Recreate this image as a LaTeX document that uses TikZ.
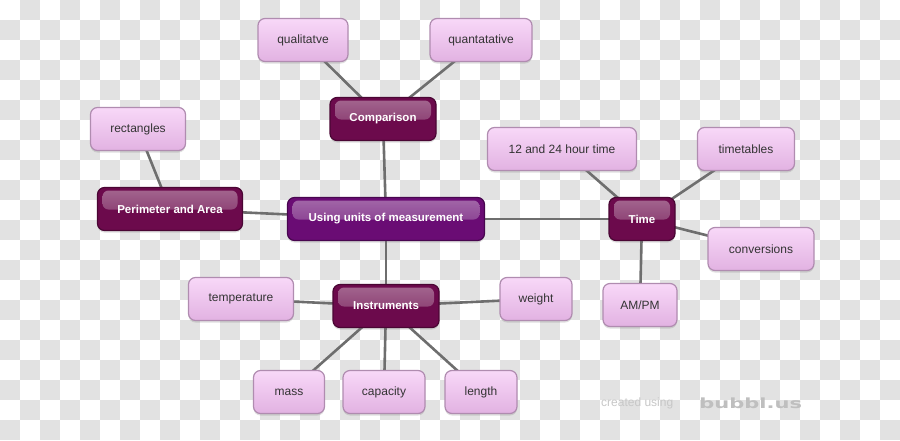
\documentclass[tikz,border=0pt]{standalone}
\usepackage{fontspec}
\setmainfont{Liberation Sans}
\newfontfamily\logofont{DejaVu Sans}
\usepackage{xcolor}
\usetikzlibrary{shadows}

\definecolor{checkerGray}{HTML}{E2E2E2}
\definecolor{leafTop}{HTML}{F8D8F8}
\definecolor{leafBot}{HTML}{E2B2E2}
\definecolor{leafEdge}{HTML}{B08CB0}
\definecolor{hubFill}{HTML}{6C0A4C}
\definecolor{hubEdge}{HTML}{4A0634}
\definecolor{coreFill}{HTML}{6A0C74}
\definecolor{coreEdge}{HTML}{48064F}
\definecolor{linkGray}{HTML}{6E6E6E}

\pgfdeclarelayer{links}
\pgfdeclarelayer{front}
\pgfsetlayers{main,links,front}

\begin{document}
\begin{tikzpicture}[x=1pt,y=-1pt,
  font=\fontsize{12}{14}\selectfont,
  leaf/.style={rounded corners=7pt, draw=leafEdge, line width=1.2pt,
    top color=leafTop, bottom color=leafBot, text=black!80,
    minimum height=43pt, inner sep=0pt,
    drop shadow={shadow xshift=0pt, shadow yshift=-2pt, opacity=0.25}},
  hub/.style={rounded corners=7pt, draw=hubEdge, line width=1.2pt,
    fill=hubFill, text=white, minimum height=43pt, inner sep=0pt,
    font=\fontsize{11.5}{14}\selectfont\bfseries,
    drop shadow={shadow xshift=0pt, shadow yshift=-2pt, opacity=0.25},
    path picture={\shade[top color=white!70!hubFill, bottom color=white!20!hubFill,
      opacity=0.55, rounded corners=6pt]
      ([xshift=5pt,yshift=-3pt]path picture bounding box.north west) rectangle
      ([xshift=-5pt,yshift=-22pt]path picture bounding box.north east);}},
  core/.style={hub, fill=coreFill, draw=coreEdge,
    path picture={\shade[top color=white!70!coreFill, bottom color=white!20!coreFill,
      opacity=0.55, rounded corners=6pt]
      ([xshift=5pt,yshift=-3pt]path picture bounding box.north west) rectangle
      ([xshift=-5pt,yshift=-22pt]path picture bounding box.north east);}},
  link/.style={draw=linkGray, line width=2.6pt}]

\useasboundingbox (0,0) rectangle (900,440);

% checker background
\fill[white] (0,0) rectangle (900,440);
\foreach \i in {0,...,44}{
  \foreach \j in {0,...,21}{
    \pgfmathtruncatemacro\odd{mod(\i+\j,2)}
    \ifnum\odd=1
      \path[fill=checkerGray] (\i*20,\j*20) rectangle (\i*20+20,\j*20+20);
    \fi
  }
}

\begin{pgfonlayer}{front}
% main topic
\node[core,minimum width=197pt] (units) at (386,219) {Using units of measurement};

% sub topics
\node[hub,minimum width=106pt] (comparison) at (383,119) {Comparison};
\node[hub,minimum width=145pt] (perimeter) at (170,209) {Perimeter and Area};
\node[hub,minimum width=66pt] (time) at (642,219) {Time};
\node[hub,minimum width=106pt] (instruments) at (386,306) {Instruments};

% leaves
\node[leaf,minimum width=90pt] (qualitative) at (303,40) {qualitatve};
\node[leaf,minimum width=102pt] (quantitative) at (481,40) {quantatative};
\node[leaf,minimum width=95pt] (rectangles) at (138,129) {rectangles};
\node[leaf,minimum width=149pt] (hourtime) at (562,149) {12 and 24 hour time};
\node[leaf,minimum width=97pt] (timetables) at (746,149) {timetables};
\node[leaf,minimum width=106pt] (conversions) at (761,249) {conversions};
\node[leaf,minimum width=74pt] (ampm) at (640,305) {AM/PM};
\node[leaf,minimum width=105pt] (temperature) at (241,299) {temperature};
\node[leaf,minimum width=72pt] (weight) at (536,299) {weight};
\node[leaf,minimum width=71pt] (mass) at (289,392) {mass};
\node[leaf,minimum width=82pt] (capacity) at (384,392) {capacity};
\node[leaf,minimum width=72pt] (length) at (481,392) {length};
\end{pgfonlayer}

\begin{pgfonlayer}{links}
\draw[link] (units.center) -- (comparison.center);
\draw[link] (units.center) -- (perimeter.center);
\draw[link] (units.center) -- (time.center);
\draw[link] (units.center) -- (instruments.center);
\draw[link] (comparison.center) -- (qualitative.center);
\draw[link] (comparison.center) -- (quantitative.center);
\draw[link] (perimeter.center) -- (rectangles.center);
\draw[link] (time.center) -- (hourtime.center);
\draw[link] (time.center) -- (timetables.center);
\draw[link] (time.center) -- (conversions.center);
\draw[link] (time.center) -- (ampm.center);
\draw[link] (instruments.center) -- (temperature.center);
\draw[link] (instruments.center) -- (weight.center);
\draw[link] (instruments.center) -- (mass.center);
\draw[link] (instruments.center) -- (capacity.center);
\draw[link] (instruments.center) -- (length.center);
\end{pgfonlayer}

% watermark
\node[text=black!22,anchor=west,inner sep=0pt] (credit) at (601,403) {created using};
\node[text=black!25,anchor=west,inner sep=0pt,xscale=1.5,
  font=\logofont\bfseries\fontsize{14}{14}\selectfont] (logo) at (699,403) {bubbl.us};

\end{tikzpicture}
\end{document}
